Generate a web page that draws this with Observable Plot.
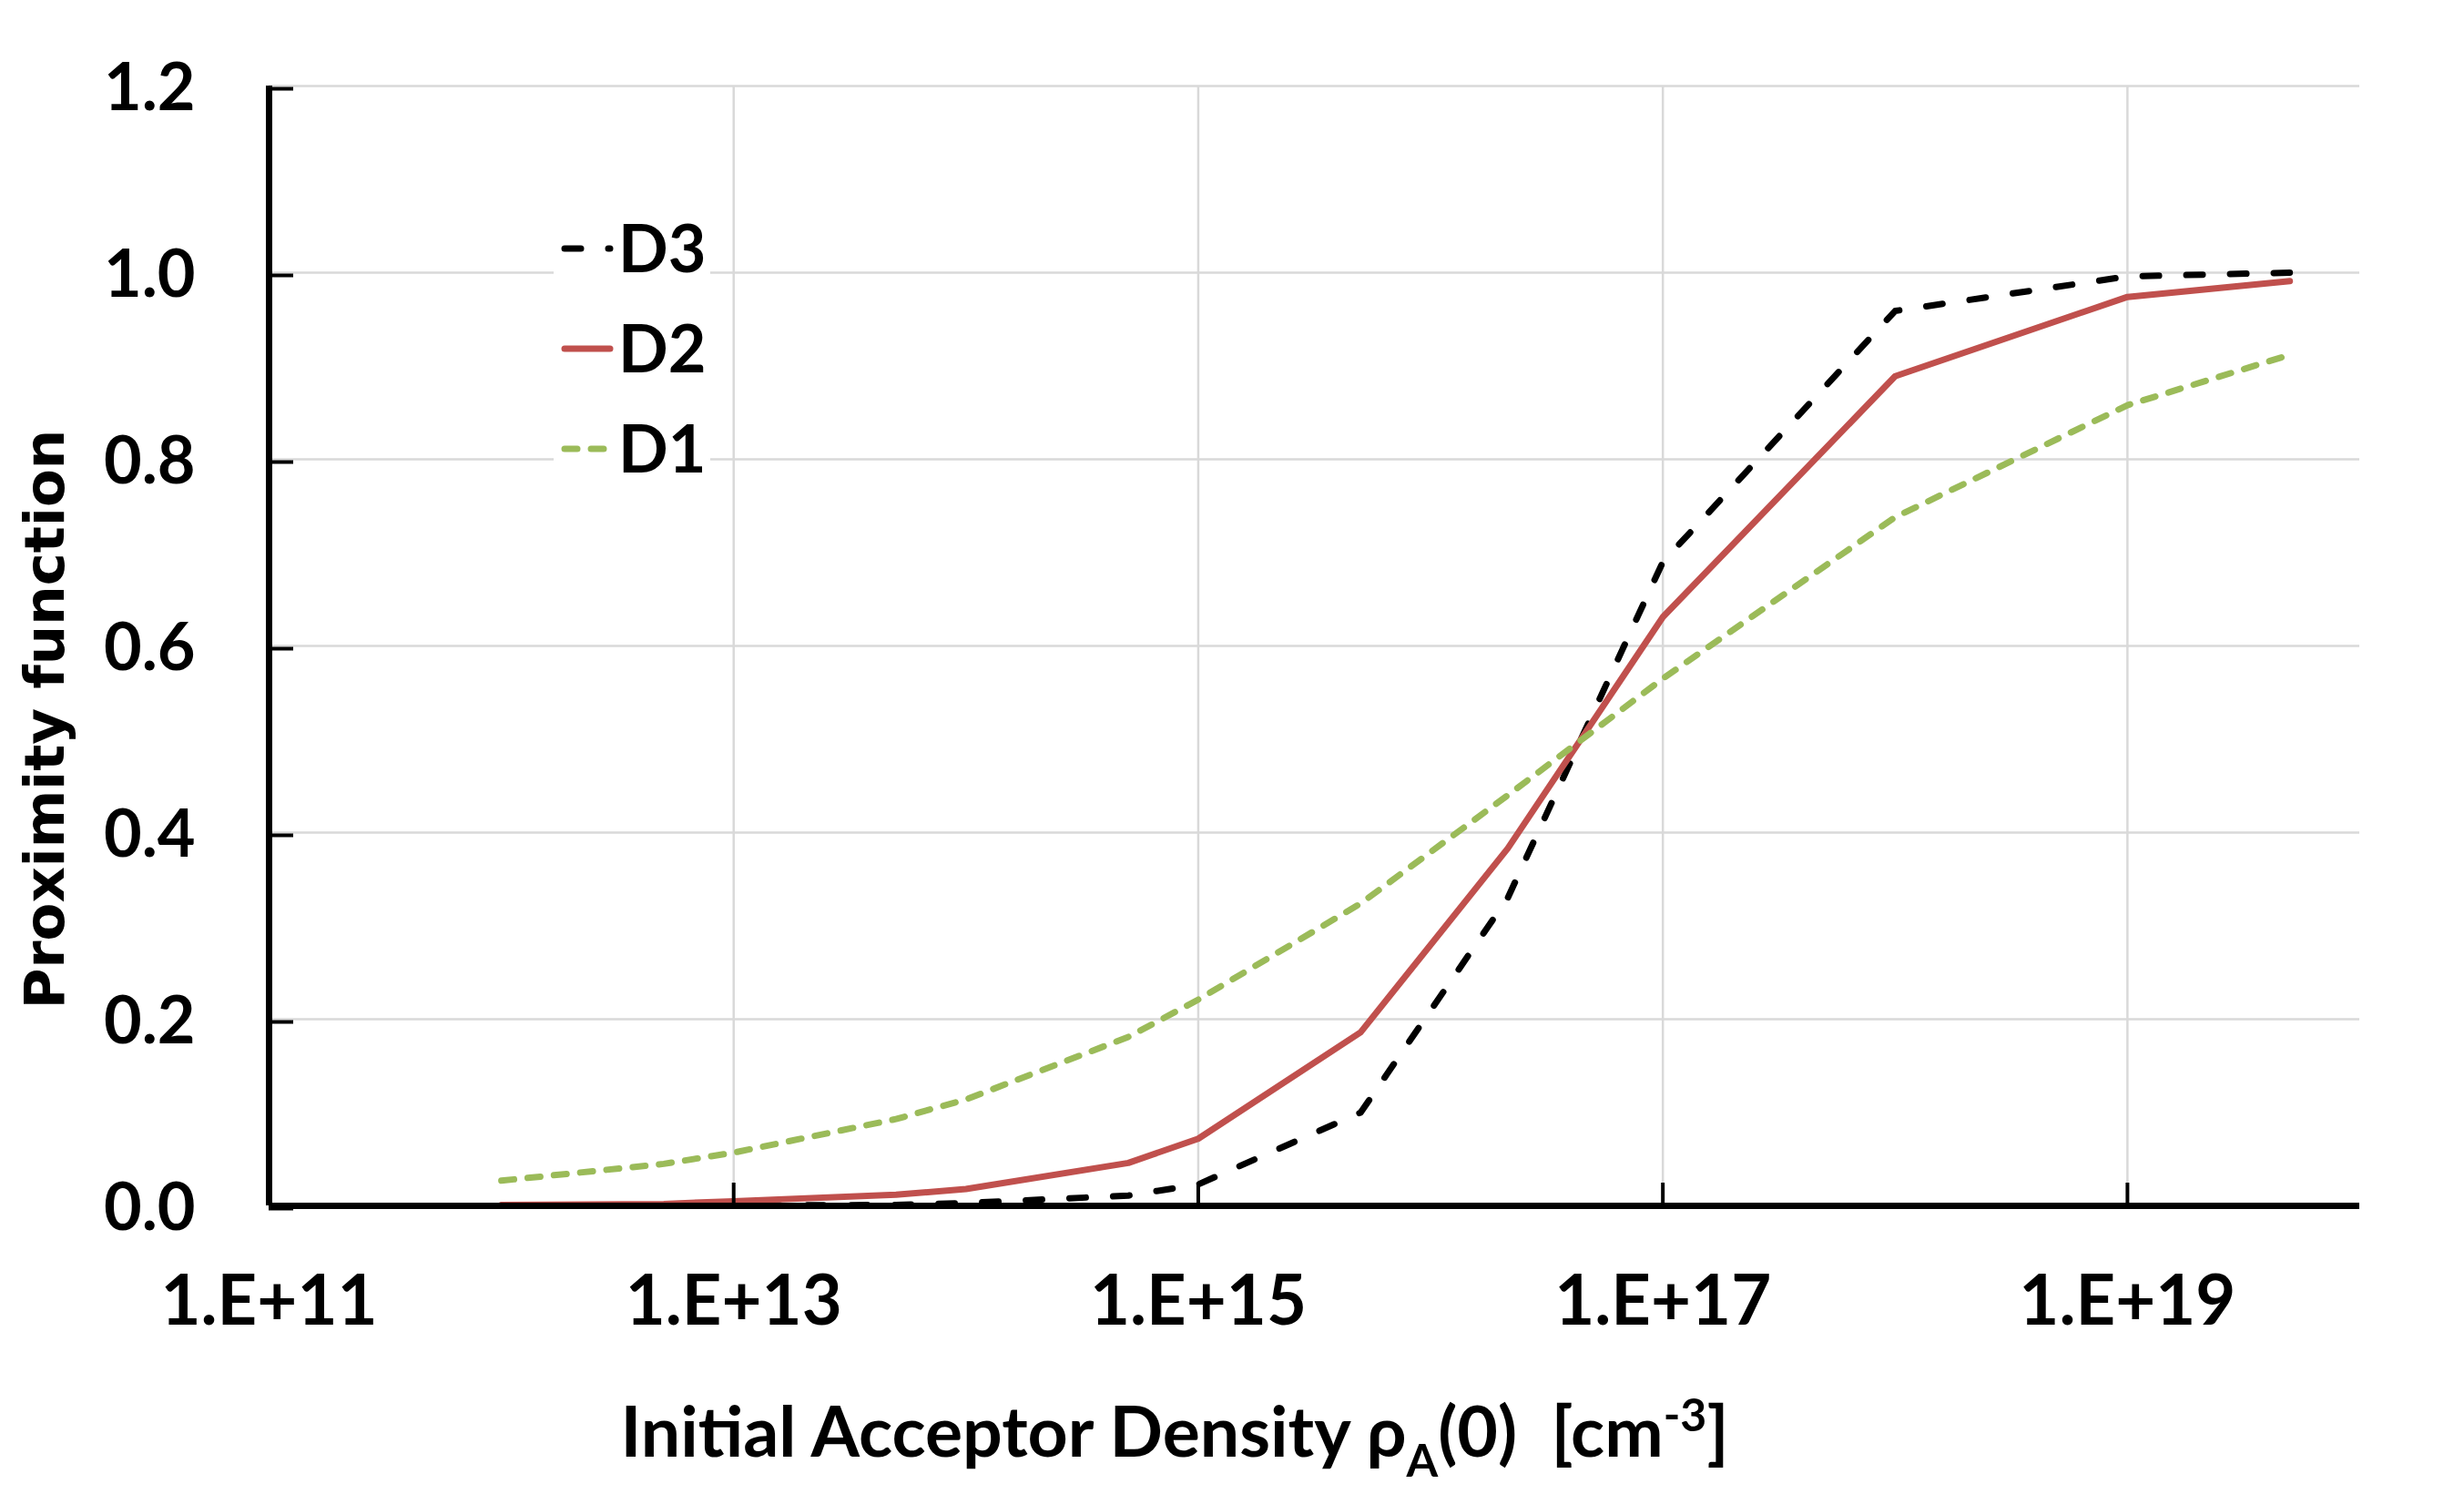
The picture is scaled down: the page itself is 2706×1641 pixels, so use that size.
<!DOCTYPE html>
<html>
<head>
<meta charset="utf-8">
<script src="https://cdn.jsdelivr.net/npm/d3@7"></script>
<script src="https://cdn.jsdelivr.net/npm/@observablehq/plot@0.6"></script>
<style>
  html, body { margin: 0; padding: 0; background: #fff; }
  #wrap { position: relative; width: 2706px; height: 1641px; overflow: hidden; }
  #legend { position: absolute; left: 608px; top: 225px; overflow: visible; }
</style>
</head>
<body>
<div id="wrap"></div>
<script>
// ---- data ----
const xValues  = [1e12, 5e12, 1e13, 5e13, 1e14, 5e14, 1e15, 5e15, 2.15e16, 1e17, 1e18, 1e19, 5e19];
const d3Values = [0.000, 0.0001, 0.0003, 0.001, 0.003, 0.011, 0.023, 0.100, 0.330, 0.690, 0.959, 0.996, 1.000];
const d2Values = [0.001, 0.002, 0.005, 0.012, 0.018, 0.046, 0.072, 0.186, 0.383, 0.631, 0.889, 0.974, 0.991];
const d1Values = [0.027, 0.045, 0.057, 0.093, 0.114, 0.181, 0.221, 0.324, 0.440, 0.565, 0.738, 0.858, 0.912];
const seriesNames = ["D3", "D2", "D1"];
const xTicks = [1e11, 1e13, 1e15, 1e17, 1e19];
const xTickLabels = ["1.E+11", "1.E+13", "1.E+15", "1.E+17", "1.E+19"];
const yTicks = [0, 0.2, 0.4, 0.6, 0.8, 1.0, 1.2];
const yTickLabels = ["0.0", "0.2", "0.4", "0.6", "0.8", "1.0", "1.2"];
const yTitle = "Proximity function";

// ---- styles ----
const styles = {
  D3: {stroke: "#000000", strokeWidth: 7, strokeDasharray: "18,30", strokeLinecap: "round"},
  D2: {stroke: "#C0504D", strokeWidth: 7, strokeDasharray: null, strokeLinecap: "round"},
  D1: {stroke: "#9BBB59", strokeWidth: 7, strokeDasharray: "14,15", strokeLinecap: "round"}
};
const FONT = "Lato, 'Open Sans', sans-serif";

const valuesBySeries = {D3: d3Values, D2: d2Values, D1: d1Values};
const rows = seriesNames.flatMap(s => xValues.map((x, i) => ({series: s, x, y: valuesBySeries[s][i]})));

const chart = Plot.plot({
  width: 2706,
  height: 1641,
  marginLeft: 295,
  marginRight: 115,
  marginTop: 94,
  marginBottom: 317,
  style: {fontFamily: FONT, fontWeight: "bold", background: "#fff", color: "#000"},
  x: {type: "log", domain: [1e11, 1e20]},
  y: {domain: [0, 1.2]},
  marks: [
    Plot.gridY(yTicks.filter(d => d > 0), {stroke: "#D9D9D9", strokeOpacity: 1, strokeWidth: 2.5}),
    Plot.gridX(xTicks.filter(d => d > 1e11), {stroke: "#D9D9D9", strokeOpacity: 1, strokeWidth: 2.5}),
    ...seriesNames.map(s => Plot.line(rows.filter(r => r.series === s), {
      x: "x", y: "y", ...styles[s], strokeLinejoin: "round"
    })),
    Plot.ruleY([0], {stroke: "#000", strokeWidth: 7}),
    Plot.ruleX([1e11], {stroke: "#000", strokeWidth: 7}),
    Plot.axisX({
      ticks: xTicks,
      tickFormat: d => xTickLabels[xTicks.indexOf(d)],
      tickSize: -25, tickPadding: 102, strokeWidth: 4,
      fontSize: 76, fontFamily: FONT, fontWeight: "bold", label: null
    }),
    Plot.axisY({
      ticks: yTicks,
      tickFormat: d => yTickLabels[yTicks.indexOf(d)],
      tickSize: -27, tickPadding: 108, strokeWidth: 4, dy: 3,
      fontSize: 72, fontFamily: FONT, fontWeight: "bold", label: null
    })
  ]
});
document.getElementById("wrap").appendChild(chart);

// ---- axis titles ----
const svg = d3.select(chart);
svg.append("text")
  .attr("transform", "translate(48,790) rotate(-90)")
  .attr("text-anchor", "middle")
  .attr("dominant-baseline", "central")
  .style("font-family", "'DejaVu Sans', sans-serif")
  .style("font-weight", "bold")
  .style("font-size", "61px")
  .attr("fill", "#000")
  .text(yTitle);

const xt = svg.append("text")
  .attr("x", 1290).attr("y", 1600)
  .attr("text-anchor", "middle")
  .style("font-family", FONT)
  .style("font-weight", "bold")
  .style("font-size", "77px")
  .style("white-space", "pre")
  .attr("fill", "#000");
xt.append("tspan").text("Initial Acceptor Density ρ");
xt.append("tspan").attr("dy", 22).style("font-size", "50px").text("A");
xt.append("tspan").attr("dy", -22).text("(0)  [cm");
xt.append("tspan").attr("dy", -28).style("font-size", "50px").text("-3");
xt.append("tspan").attr("dy", 28).text("]");

// ---- legend ----
const lg = d3.select("#wrap").append("svg")
  .attr("id", "legend").attr("width", 240).attr("height", 320);
lg.append("rect").attr("width", 172).attr("height", 320).attr("fill", "#fff");
seriesNames.forEach((s, i) => {
  const cy = 48 + i * 110;
  const st = styles[s];
  lg.append("line")
    .attr("x1", 12).attr("x2", 62).attr("y1", cy).attr("y2", cy)
    .attr("stroke", st.stroke).attr("stroke-width", st.strokeWidth)
    .attr("stroke-dasharray", st.strokeDasharray)
    .attr("stroke-linecap", "round");
  lg.append("text")
    .attr("x", 71).attr("y", cy + 26)
    .style("font-family", FONT).style("font-weight", "bold").style("font-size", "72px")
    .attr("fill", "#000")
    .text(s);
});
</script>
</body>
</html>
